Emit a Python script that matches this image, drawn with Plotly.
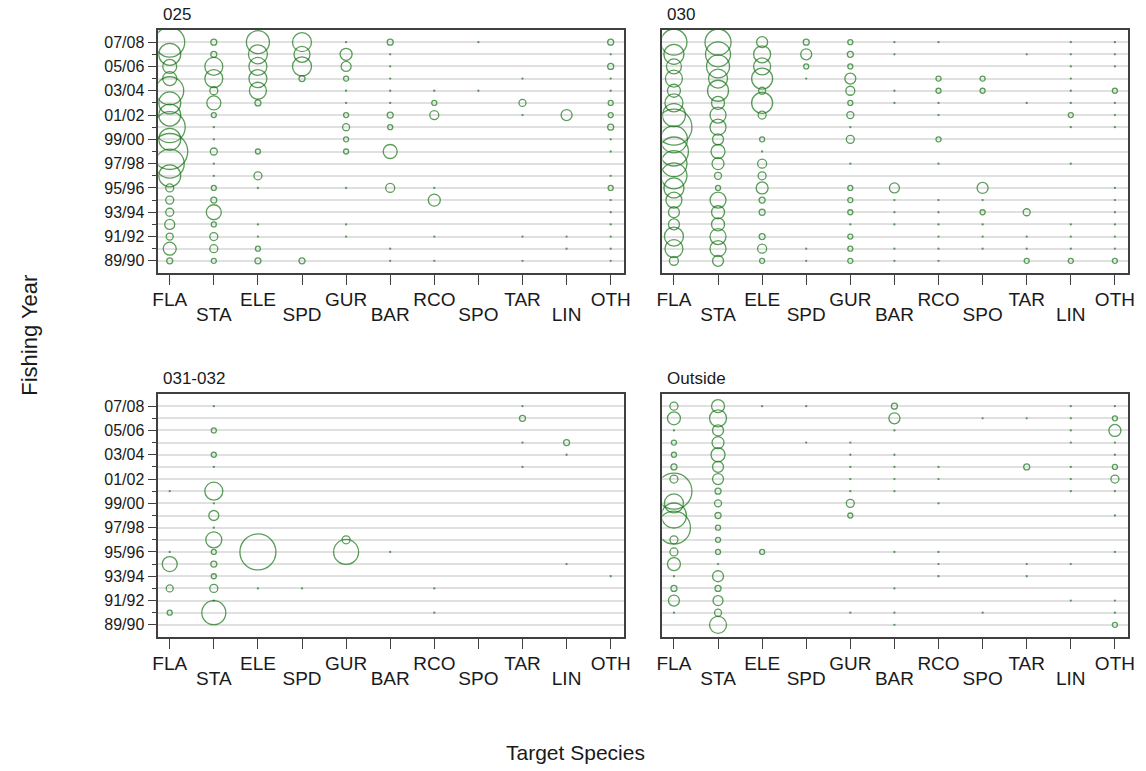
import plotly.graph_objects as go

# ---------------- data ----------------
species = ["FLA", "STA", "ELE", "SPD", "GUR", "BAR", "RCO", "SPO", "TAR", "LIN", "OTH"]
years = ["89/90", "90/91", "91/92", "92/93", "93/94", "94/95", "95/96", "96/97", "97/98", "98/99",
         "99/00", "00/01", "01/02", "02/03", "03/04", "04/05", "05/06", "06/07", "07/08"]
year_labels = ["89/90", "91/92", "93/94", "95/96", "97/98", "99/00", "01/02", "03/04", "05/06", "07/08"]
panel_names = ["025", "030", "031-032", "Outside"]

# relative catch index per fishing year (89/90 ... 07/08), 0 = no catch
area_025 = {
    "FLA": [6, 13, 7, 10, 8, 8, 8, 22, 29, 36, 22, 31, 22, 22, 28, 14, 14, 22, 30],
    "STA": [5, 8, 8, 5, 15, 6, 5, 1, 1, 7, 1, 1, 5, 14, 8, 18, 18, 6, 6],
    "ELE": [6, 5, 1, 1, 0, 0, 1, 8, 0, 5, 0, 0, 0, 6, 17, 18, 18, 19, 23],
    "SPD": [6, 0, 0, 0, 0, 0, 0, 0, 0, 0, 0, 0, 0, 0, 0, 6, 19, 16, 19],
    "GUR": [0, 0, 1, 1, 0, 0, 1, 0, 0, 5, 5, 7, 5, 1, 1, 5, 10, 12, 1],
    "BAR": [1, 1, 0, 0, 0, 0, 9, 0, 0, 14, 0, 5, 6, 1, 1, 1, 1, 1, 6],
    "RCO": [1, 0, 1, 0, 0, 12, 1, 0, 0, 0, 0, 0, 9, 5, 1, 0, 0, 0, 0],
    "SPO": [0, 0, 0, 0, 0, 0, 0, 0, 0, 0, 0, 0, 0, 0, 1, 0, 0, 0, 1],
    "TAR": [1, 0, 1, 0, 0, 0, 0, 0, 0, 0, 0, 0, 1, 7, 0, 1, 0, 0, 0],
    "LIN": [0, 1, 1, 0, 0, 0, 0, 0, 0, 0, 0, 0, 11, 0, 0, 0, 0, 0, 0],
    "OTH": [1, 1, 1, 1, 1, 1, 5, 1, 0, 1, 1, 6, 5, 5, 1, 1, 6, 1, 6],
}
area_030 = {
    "FLA": [9, 18, 19, 11, 11, 16, 20, 26, 26, 29, 27, 36, 23, 18, 13, 17, 15, 20, 26],
    "STA": [11, 16, 16, 13, 13, 16, 5, 7, 12, 14, 11, 16, 16, 13, 21, 19, 23, 25, 26],
    "ELE": [5, 9, 6, 0, 6, 6, 12, 8, 9, 1, 5, 0, 8, 21, 7, 21, 17, 17, 11],
    "SPD": [1, 1, 0, 0, 0, 0, 0, 0, 0, 0, 0, 0, 0, 0, 0, 1, 5, 11, 6],
    "GUR": [5, 5, 5, 1, 5, 5, 5, 0, 1, 0, 8, 1, 7, 5, 9, 11, 5, 6, 5],
    "BAR": [1, 1, 0, 1, 1, 1, 10, 0, 0, 0, 0, 0, 0, 1, 1, 0, 0, 1, 1],
    "RCO": [1, 1, 1, 1, 1, 1, 0, 0, 1, 0, 5, 0, 1, 1, 5, 5, 0, 0, 1],
    "SPO": [0, 1, 1, 1, 5, 1, 11, 0, 0, 0, 0, 0, 0, 0, 5, 5, 0, 0, 0],
    "TAR": [5, 1, 1, 0, 7, 0, 0, 0, 0, 0, 0, 0, 0, 1, 0, 0, 0, 1, 0],
    "LIN": [5, 1, 1, 1, 0, 0, 0, 0, 1, 0, 0, 1, 5, 1, 1, 1, 1, 1, 1],
    "OTH": [5, 1, 1, 1, 1, 1, 1, 0, 0, 0, 0, 1, 1, 1, 5, 0, 1, 1, 1],
}
area_031_032 = {
    "FLA": [0, 5, 0, 7, 0, 15, 1, 0, 0, 0, 0, 1, 0, 0, 0, 0, 0, 0, 0],
    "STA": [0, 24, 1, 8, 5, 6, 5, 16, 1, 10, 1, 18, 0, 1, 5, 0, 5, 0, 1],
    "ELE": [0, 0, 0, 1, 0, 0, 36, 0, 0, 0, 0, 0, 0, 0, 0, 0, 0, 0, 0],
    "SPD": [0, 0, 0, 1, 0, 0, 0, 0, 0, 0, 0, 0, 0, 0, 0, 0, 0, 0, 0],
    "GUR": [0, 0, 0, 0, 0, 0, 25, 8, 0, 0, 0, 0, 0, 0, 0, 0, 0, 0, 0],
    "BAR": [0, 0, 0, 0, 0, 0, 1, 0, 0, 0, 0, 0, 0, 0, 0, 0, 0, 0, 0],
    "RCO": [0, 1, 0, 1, 0, 0, 0, 0, 0, 0, 0, 0, 0, 0, 0, 0, 0, 0, 0],
    "SPO": [0, 0, 0, 0, 0, 0, 0, 0, 0, 0, 0, 0, 0, 0, 0, 0, 0, 0, 0],
    "TAR": [0, 0, 0, 0, 0, 0, 0, 0, 0, 0, 0, 0, 0, 1, 0, 1, 0, 6, 1],
    "LIN": [0, 0, 0, 0, 0, 1, 0, 0, 0, 0, 0, 0, 0, 0, 1, 6, 0, 0, 0],
    "OTH": [0, 0, 0, 0, 1, 0, 0, 0, 0, 0, 0, 0, 0, 0, 0, 0, 0, 0, 0],
}
area_outside = {
    "FLA": [0, 1, 11, 6, 1, 13, 8, 8, 33, 25, 19, 36, 8, 6, 5, 5, 1, 13, 8],
    "STA": [17, 7, 10, 6, 11, 1, 5, 5, 5, 6, 7, 6, 11, 11, 14, 12, 11, 17, 13],
    "ELE": [0, 0, 0, 0, 0, 0, 5, 0, 0, 0, 0, 0, 0, 0, 0, 0, 0, 0, 1],
    "SPD": [0, 0, 0, 0, 0, 0, 0, 0, 0, 0, 0, 0, 0, 0, 0, 1, 0, 0, 1],
    "GUR": [0, 1, 0, 0, 0, 0, 0, 0, 0, 5, 8, 1, 1, 1, 1, 1, 0, 0, 0],
    "BAR": [1, 1, 0, 1, 0, 0, 1, 0, 0, 0, 0, 1, 1, 1, 1, 0, 1, 11, 6],
    "RCO": [0, 0, 0, 0, 1, 1, 1, 0, 0, 0, 1, 0, 1, 1, 0, 0, 0, 0, 0],
    "SPO": [0, 1, 0, 0, 0, 0, 0, 0, 0, 0, 0, 0, 0, 0, 0, 0, 0, 1, 0],
    "TAR": [0, 0, 0, 0, 1, 1, 0, 0, 0, 0, 0, 0, 0, 6, 0, 0, 0, 1, 0],
    "LIN": [0, 0, 1, 0, 0, 1, 0, 0, 0, 0, 0, 1, 1, 1, 0, 1, 1, 1, 1],
    "OTH": [5, 1, 1, 0, 0, 0, 1, 0, 0, 1, 0, 1, 8, 5, 1, 1, 12, 5, 1],
}
panels = [area_025, area_030, area_031_032, area_outside]

# ---------------- layout geometry ----------------
W, H = 1146, 771
xdom = [[154 / W, 625 / W], [664 / W, 1135 / W]]
ydom = [[1 - 273 / H, 1 - 30 / H], [1 - 637 / H, 1 - 394 / H]]
FONT = "Liberation Sans, Arial, sans-serif"
TXT = "#1a1a1a"
GREEN = "#157515"

fig = go.Figure()
layout = dict(
    width=W, height=H, margin=dict(l=0, r=0, t=0, b=0),
    paper_bgcolor="white", plot_bgcolor="white", showlegend=False,
    font=dict(family=FONT, color=TXT),
)

odd_idx = list(range(1, len(species), 2))
annotations = []

for p, data in enumerate(panels):
    n = p + 1
    col, row = p % 2, p // 2
    xs, ys, ss = [], [], []
    for si, sp in enumerate(species):
        for yi, v in enumerate(data[sp]):
            if v > 0:
                xs.append(si)
                ys.append(yi)
                ss.append(v)
    xa = "x" if n == 1 else f"x{n}"
    ya = "y" if n == 1 else f"y{n}"
    fig.add_trace(go.Scatter(
        x=xs, y=ys, mode="markers", xaxis=xa, yaxis=ya,
        marker=dict(symbol="circle-open", size=ss, sizemode="diameter",
                    color=GREEN, line=dict(width=1.3, color=GREEN)),
        hoverinfo="skip",
    ))
    # overlay axis for the staggered second row of species labels
    on = n + 4
    fig.add_trace(go.Scatter(x=[], y=[], xaxis=f"x{on}", yaxis=ya, hoverinfo="skip"))

    xkey = "xaxis" if n == 1 else f"xaxis{n}"
    ykey = "yaxis" if n == 1 else f"yaxis{n}"
    xr = [-0.26, 10.3]
    layout[xkey] = dict(
        domain=xdom[col], anchor=ya, range=xr, showgrid=False, zeroline=False,
        showline=True, mirror=True, linecolor="#404040", linewidth=1.5,
        ticks="outside", ticklen=10, tickwidth=1.3, tickcolor="#404040",
        tickvals=list(range(len(species))),
        ticktext=[species[i] if i % 2 == 0 else "" for i in range(len(species))],
        tickfont=dict(size=19, family=FONT, color=TXT),
        ticklabelstandoff=-2,
    )
    layout[f"xaxis{on}"] = dict(
        overlaying=xa, anchor=ya, side="bottom", range=xr, showgrid=False,
        zeroline=False, showline=False, ticks="outside", ticklen=10,
        tickcolor="rgba(0,0,0,0)", ticklabelstandoff=14,
        tickvals=odd_idx, ticktext=[species[i] for i in odd_idx],
        tickfont=dict(size=19, family=FONT, color=TXT),
    )
    layout[ykey] = dict(
        domain=ydom[row], anchor=xa, range=[-1.0, 19.0], zeroline=False,
        showline=True, mirror=True, linecolor="#404040", linewidth=1.5,
        showgrid=True, gridcolor="#e0e0e0", gridwidth=1.5,
        tickvals=list(range(0, len(years), 2)), ticktext=year_labels,
        ticks="outside" if col == 0 else "", ticklen=9, tickwidth=1.3,
        tickcolor="#404040", showticklabels=(col == 0),
        tickfont=dict(size=16, family=FONT, color=TXT),
        minor=dict(tickvals=list(range(1, len(years), 2)),
                   ticks="outside" if col == 0 else "", ticklen=5,
                   tickwidth=1.3, tickcolor="#404040",
                   showgrid=True, gridcolor="#e0e0e0", gridwidth=1.5),
    )
    annotations.append(dict(
        text=panel_names[p], xref="paper", yref="paper",
        x=xdom[col][0] + 3 / W, y=ydom[row][1] + 15 / H,
        xanchor="left", yanchor="middle", showarrow=False,
        font=dict(size=17, family=FONT, color=TXT),
    ))

annotations.append(dict(
    text="Fishing Year", xref="paper", yref="paper", x=23 / W, y=1 - 335 / H,
    xanchor="center", yanchor="middle", textangle=-90, showarrow=False,
    font=dict(size=22, family=FONT, color=TXT),
))
annotations.append(dict(
    text="Target Species", xref="paper", yref="paper", x=576 / W, y=1 - 752 / H,
    xanchor="center", yanchor="middle", showarrow=False,
    font=dict(size=21, family=FONT, color=TXT),
))
layout["annotations"] = annotations
fig.update_layout(**layout)

fig.write_html("out.html")
